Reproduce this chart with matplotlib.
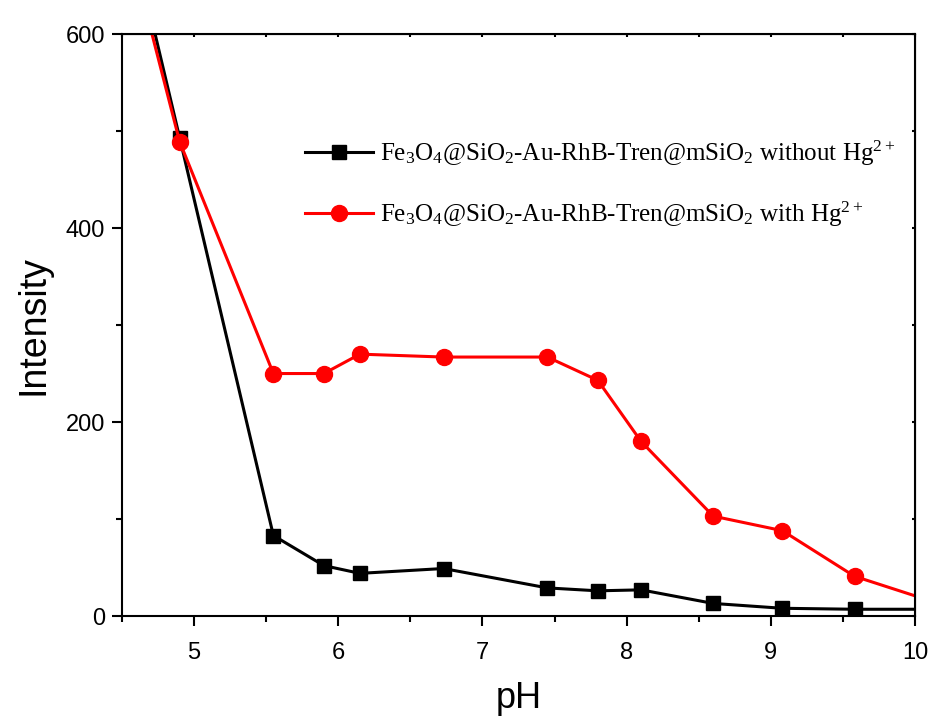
import matplotlib
matplotlib.use("Agg")
import matplotlib.pyplot as plt
import numpy as np

# data (first / last points lie outside the axes and get clipped)
ph = [4.3, 4.9, 5.55, 5.9, 6.15, 6.73, 7.45, 7.8, 8.1, 8.6, 9.08, 9.58, 10.1]
without_hg = [870, 493, 83, 52, 44, 49, 29, 26, 27, 13, 8, 7, 7]
with_hg = [836, 489, 250, 250, 270, 267, 267, 243, 180, 103, 88, 41, 16]

lbl_without = r"Fe$_3$O$_4$@SiO$_2$-Au-RhB-Tren@mSiO$_2$ without Hg$^{2+}$"
lbl_with = r"Fe$_3$O$_4$@SiO$_2$-Au-RhB-Tren@mSiO$_2$ with Hg$^{2+}$"

plt.rcParams['font.family'] = ['Liberation Sans', 'DejaVu Sans']
plt.rcParams['mathtext.fontset'] = 'custom'
plt.rcParams['mathtext.rm'] = 'Liberation Serif'
plt.rcParams['mathtext.it'] = 'Liberation Serif'

fig = plt.figure(figsize=(9.29, 7.18), dpi=100)
ax = fig.add_axes([0.1313, 0.142, 0.8537, 0.8106])

ax.plot(ph, without_hg, '-s', color='black', lw=2.2, ms=10, label=lbl_without)
ax.plot(ph, with_hg, '-o', color='red', lw=2.2, ms=11.5, label=lbl_with)

ax.set_xlim(4.5, 10.0)
ax.set_ylim(0, 600)
ax.set_xticks([5, 6, 7, 8, 9, 10])
ax.set_xticks(np.arange(4.5, 10.01, 0.5), minor=True)
ax.set_yticks([0, 200, 400, 600])
ax.set_yticks([100, 300, 500], minor=True)

for s in ax.spines.values():
    s.set_linewidth(1.5)

ax.tick_params(which='major', direction='out', length=7, width=1.5, labelsize=17)
ax.tick_params(which='minor', direction='out', length=4, width=1.5)
ax.tick_params(axis='x', which='major', pad=12)
ax.tick_params(axis='y', which='major', pad=5)

# tiny inward ticks on top and right
top = ax.secondary_xaxis('top')
top.set_xticks(np.arange(4.5, 10.01, 0.5))
top.tick_params(direction='in', length=2, width=1.5, labeltop=False)
right = ax.secondary_yaxis('right')
right.set_yticks(np.arange(0, 601, 100))
right.tick_params(direction='in', length=2, width=1.5, labelright=False)

ax.set_xlabel("pH", fontsize=26, labelpad=12)
ax.set_ylabel("Intensity", fontsize=27, labelpad=10)

leg = ax.legend(loc='center left', bbox_to_anchor=(0.231, 0.743), frameon=False,
                prop={'family': 'Liberation Serif', 'size': 18},
                handlelength=2.7, handletextpad=0.3, labelspacing=1.25,
                borderpad=0, borderaxespad=0)

fig.savefig("out.png", dpi=100)
